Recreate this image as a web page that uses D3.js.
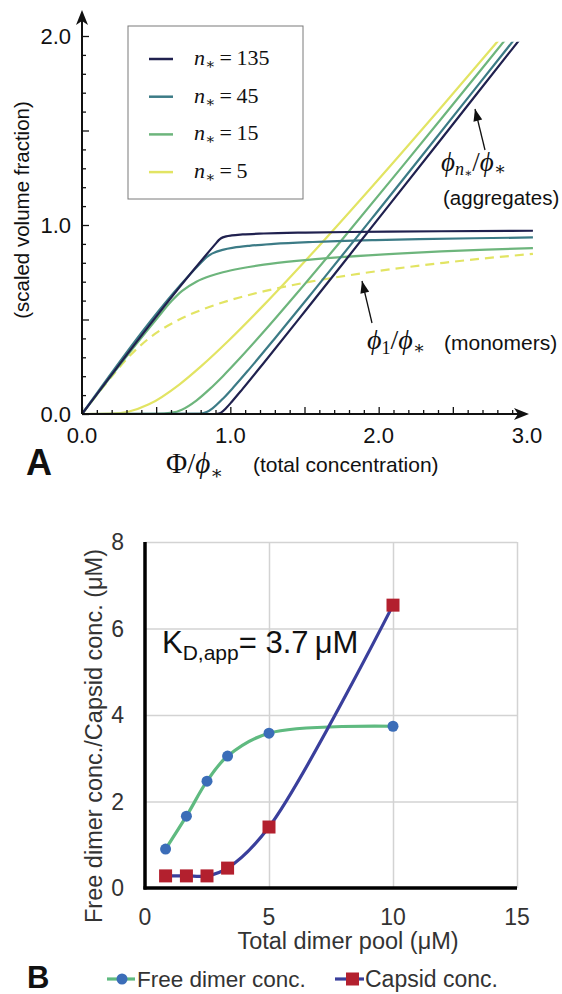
<!DOCTYPE html>
<html>
<head>
<meta charset="utf-8">
<script src="https://cdn.jsdelivr.net/npm/d3@7"></script>
<style>
  body { margin: 0; background: #fff; }
  #c { width: 562px; height: 994px; }
  text { font-family: "Liberation Sans", Arial, sans-serif; fill: #111; }
  .math { font-family: "Liberation Serif", "DejaVu Serif", serif; }
</style>
</head>
<body>
<div id="c"></div>
<script>
"use strict";

// ---- panel A : scaled volume fraction vs total concentration ----
// each n* has its own sampled total-concentration points
const nLabels = ["135", "45", "15", "5"]
const nColors = ["#20214f", "#3c7b86", "#6db57c", "#e2e463"]

const tot135 = [0, 0.9, 0.922, 0.9375, 0.972, 1.010, 1.083, 1.225, 1.506, 1.795, 2.065, 2.421, 2.893, 3.04]
const mono135 = [0, 0.9, 0.92, 0.93, 0.94, 0.945, 0.95, 0.955, 0.96, 0.963, 0.965, 0.967, 0.969, 0.9695]
const agg135 = [0, 0.0001, 0.002, 0.0075, 0.032, 0.065, 0.133, 0.270, 0.546, 0.832, 1.10, 1.454, 1.924, 2.07]

const tot45 = [0, 0.802, 0.840, 0.880, 0.955, 1.0225, 1.1275, 1.293, 1.556, 1.977, 2.273, 2.646, 3.04]
const mono45 = [0, 0.8, 0.83, 0.85, 0.87, 0.88, 0.89, 0.90, 0.91, 0.92, 0.925, 0.93, 0.934]
const agg45 = [0, 0.002, 0.010, 0.030, 0.085, 0.1425, 0.2375, 0.393, 0.646, 1.057, 1.348, 1.716, 2.106]

const tot15 = [0, 0.5, 0.607, 0.673, 0.771, 0.864, 0.950, 1.067, 1.226, 1.446, 1.747, 2.160, 2.422, 2.727, 3.04]
const mono15 = [0, 0.5, 0.6, 0.65, 0.70, 0.73, 0.75, 0.77, 0.79, 0.81, 0.83, 0.85, 0.86, 0.87, 0.878]
const agg15 = [0, 0.0005, 0.007, 0.023, 0.071, 0.134, 0.200, 0.297, 0.436, 0.636, 0.917, 1.310, 1.562, 1.857, 2.162]

const tot5 = [0, 0.202, 0.312, 0.451, 0.656, 0.802, 0.989, 1.230, 1.540, 1.937, 2.438, 2.80, 3.04]
const mono5 = [0, 0.2, 0.3, 0.4, 0.5, 0.55, 0.6, 0.65, 0.7, 0.75, 0.8, 0.83, 0.847]
const agg5 = [0, 0.002, 0.012, 0.051, 0.156, 0.252, 0.389, 0.580, 0.840, 1.187, 1.638, 1.970, 2.193]

const xTicksA = [0, 1, 2, 3]
const yTicksA = [0, 1, 2]

// ---- panel B : free dimer / capsid vs total dimer pool ----
const dimerPool = [0.83, 1.67, 2.5, 3.33, 5, 10]
const freeDimer = [0.9, 1.66, 2.47, 3.05, 3.58, 3.74]
const capsid = [0.28, 0.28, 0.28, 0.46, 1.41, 6.54]
const xTicksB = [0, 5, 10, 15]
const yTicksB = [0, 2, 4, 6, 8]

const PHI = '\u03D5'
let svg

window.onload = function() {
    svg = d3.select('#c').append('svg')
        .attr('width', 562).attr('height', 994)
    drawPanelA()
    drawPanelB()
}

function zip(xs, ys) {
    return xs.map((x, i) => [x, ys[i]])
}

function drawPanelA() {
    const x = d3.scaleLinear().domain([0, 3]).range([82, 527])
    const y = d3.scaleLinear().domain([0, 2]).range([414, 36])
    const g = svg.append('g')

    // legend box
    g.append('rect')
        .attr('x', 128).attr('y', 26).attr('width', 175).attr('height', 173)
        .attr('fill', '#fff').attr('stroke', '#7a7a7a').attr('stroke-width', 1)

    g.append('clipPath').attr('id', 'clipA')
        .append('rect')
        .attr('x', x(0) - 2).attr('y', y(1.97))
        .attr('width', x(3.04) - x(0) + 3).attr('height', y(0) - y(1.97) + 3)

    const series = [
        {tot: tot5, mono: mono5, agg: agg5, color: nColors[3], dashed: true},
        {tot: tot15, mono: mono15, agg: agg15, color: nColors[2]},
        {tot: tot45, mono: mono45, agg: agg45, color: nColors[1]},
        {tot: tot135, mono: mono135, agg: agg135, color: nColors[0]}
    ]
    const line = d3.line()
        .x(d => x(d[0]))
        .y(d => y(d[1]))
        .curve(d3.curveMonotoneX)

    const lines = g.append('g').attr('clip-path', 'url(#clipA)')
    series.forEach(s => {
        lines.append('path')
            .datum(zip(s.tot, s.mono))
            .attr('fill', 'none')
            .attr('stroke', s.color)
            .attr('stroke-width', 2.2)
            .attr('stroke-dasharray', s.dashed ? '9,6' : null)
            .attr('d', line)
        lines.append('path')
            .datum(zip(s.tot, s.agg))
            .attr('fill', 'none')
            .attr('stroke', s.color)
            .attr('stroke-width', 2.2)
            .attr('d', line)
    })

    // axes with arrow heads
    g.append('line')
        .attr('x1', x(0)).attr('x2', 522).attr('y1', y(0)).attr('y2', y(0))
        .attr('stroke', '#111').attr('stroke-width', 2)
    g.append('line')
        .attr('x1', x(0)).attr('x2', x(0)).attr('y1', y(0)).attr('y2', 18)
        .attr('stroke', '#111').attr('stroke-width', 2)
    g.append('path')
        .attr('d', 'M529,414 L514,408 L518,414 L514,420 Z')
        .attr('fill', '#111')
    g.append('path')
        .attr('d', 'M82,10 L76,25 L82,21 L88,25 Z')
        .attr('fill', '#111')

    const minor = d3.range(0, 30).map(i => i / 10)
    const isMajor = v => Math.abs(v * 2 - Math.round(v * 2)) < 1e-6
    g.append('g')
        .attr('transform', 'translate(0,' + y(0) + ')')
        .call(d3.axisTop(x).tickValues(minor).tickFormat('')
            .tickSize(4).tickSizeOuter(0))
        .call(a => a.select('.domain').remove())
        .call(a => a.selectAll('.tick line')
            .attr('y2', d => isMajor(d) ? -7 : -4)
            .attr('stroke', '#111').attr('stroke-width', 1.3))
    g.append('g')
        .attr('transform', 'translate(' + x(0) + ',0)')
        .call(d3.axisRight(y).tickValues(d3.range(0, 21).map(i => i / 10))
            .tickFormat('').tickSize(4).tickSizeOuter(0))
        .call(a => a.select('.domain').remove())
        .call(a => a.selectAll('.tick line')
            .attr('x2', d => isMajor(d) ? 7 : 4)
            .attr('stroke', '#111').attr('stroke-width', 1.3))

    g.selectAll('.xlabA').data(xTicksA).enter().append('text')
        .attr('x', d => x(d)).attr('y', 443)
        .attr('text-anchor', 'middle').style('font-size', '22px')
        .text(d => d3.format('.1f')(d))
    g.selectAll('.ylabA').data(yTicksA).enter().append('text')
        .attr('x', 71).attr('y', d => y(d) + 8)
        .attr('text-anchor', 'end').style('font-size', '22px')
        .text(d => d3.format('.1f')(d))

    g.append('text')
        .attr('transform', 'translate(29,210) rotate(-90)')
        .attr('text-anchor', 'middle').style('font-size', '20.5px')
        .text('(scaled volume fraction)')

    g.append('text').attr('x', 26).attr('y', 475)
        .style('font-size', '36px').style('font-weight', 'bold').text('A')

    let t = g.append('text').attr('class', 'math').attr('x', 166).attr('y', 473)
        .style('font-size', '29px')
    t.append('tspan').text('Φ/')
    t.append('tspan').style('font-style', 'italic').text(PHI)
    t.append('tspan').attr('dy', 6).style('font-size', '19px').text('∗')
    g.append('text').attr('x', 253).attr('y', 472)
        .style('font-size', '21px').text('(total concentration)')

    // legend entries
    nLabels.forEach((lab, i) => {
        const cy = 59 + i * 37.7
        g.append('line')
            .attr('x1', 149).attr('x2', 173).attr('y1', cy).attr('y2', cy)
            .attr('stroke', nColors[i]).attr('stroke-width', 2.5)
        const tt = g.append('text').attr('class', 'math')
            .attr('x', 194).attr('y', cy + 6).style('font-size', '22px')
        tt.append('tspan').style('font-style', 'italic').text('n')
        tt.append('tspan').attr('dy', 4).style('font-size', '15px').text('∗')
        tt.append('tspan').attr('dy', -4).text('\u2009=\u2009' + lab)
    })

    // annotations
    const arrow = (x1, y1, x2, y2) => {
        g.append('line')
            .attr('x1', x1).attr('y1', y1).attr('x2', x2).attr('y2', y2)
            .attr('stroke', '#111').attr('stroke-width', 1.3)
        const ang = Math.atan2(y2 - y1, x2 - x1)
        const L = 12, Wd = 4.5
        const bx = x2 - L * Math.cos(ang), by = y2 - L * Math.sin(ang)
        const px = -Math.sin(ang) * Wd, py = Math.cos(ang) * Wd
        g.append('path')
            .attr('d', 'M' + x2 + ',' + y2 + ' L' + (bx + px) + ',' + (by + py) +
                ' L' + (bx - px) + ',' + (by - py) + ' Z')
            .attr('fill', '#111')
    }
    arrow(485, 150, 475, 109)
    arrow(372, 323, 362, 281)

    let a1 = g.append('text').attr('class', 'math').attr('x', 441).attr('y', 171)
        .style('font-size', '27px')
    a1.append('tspan').style('font-style', 'italic').text(PHI)
    a1.append('tspan').attr('dy', 4).style('font-size', '18px').style('font-style', 'italic').text('n')
    a1.append('tspan').attr('dy', 2).style('font-size', '12px').text('∗')
    a1.append('tspan').attr('dy', -6).text('/')
    a1.append('tspan').style('font-style', 'italic').text(PHI)
    a1.append('tspan').attr('dy', 4).style('font-size', '18px').text('∗')
    g.append('text').attr('x', 443).attr('y', 205)
        .style('font-size', '20.5px').text('(aggregates)')

    let a2 = g.append('text').attr('class', 'math').attr('x', 367).attr('y', 349)
        .style('font-size', '28px')
    a2.append('tspan').style('font-style', 'italic').text(PHI)
    a2.append('tspan').attr('dy', 5).style('font-size', '18px').text('1')
    a2.append('tspan').attr('dy', -5).text('/')
    a2.append('tspan').style('font-style', 'italic').text(PHI)
    a2.append('tspan').attr('dy', 5).style('font-size', '18px').text('∗')
    g.append('text').attr('x', 444).attr('y', 350)
        .style('font-size', '21px').text('(monomers)')
}

function drawPanelB() {
    const x = d3.scaleLinear().domain([0, 15]).range([145, 517])
    const y = d3.scaleLinear().domain([0, 8]).range([888, 542])
    const g = svg.append('g')

    // grid
    g.append('g')
        .attr('transform', 'translate(' + x(0) + ',0)')
        .call(d3.axisLeft(y).tickValues([2, 4, 6, 8]).tickFormat('')
            .tickSize(-(x(15) - x(0))).tickSizeOuter(0))
        .call(a => a.select('.domain').remove())
        .call(a => a.selectAll('.tick line').attr('stroke', '#d3d3d3').attr('stroke-width', 1.5))
    g.append('g')
        .attr('transform', 'translate(0,' + y(0) + ')')
        .call(d3.axisBottom(x).tickValues([5, 10, 15]).tickFormat('')
            .tickSize(-(y(0) - y(8))).tickSizeOuter(0))
        .call(a => a.select('.domain').remove())
        .call(a => a.selectAll('.tick line').attr('stroke', '#d3d3d3').attr('stroke-width', 1.5))

    // thick axes
    g.append('line')
        .attr('x1', x(0)).attr('x2', x(0)).attr('y1', y(8)).attr('y2', y(0) + 1.5)
        .attr('stroke', '#000').attr('stroke-width', 3.5)
    g.append('line')
        .attr('x1', x(0) - 1.5).attr('x2', x(15)).attr('y1', y(0)).attr('y2', y(0))
        .attr('stroke', '#000').attr('stroke-width', 3.5)

    g.selectAll('.ylabB').data(yTicksB).enter().append('text')
        .attr('x', 124).attr('y', d => y(d) + 8)
        .attr('text-anchor', 'end').style('font-size', '23px').style('fill', '#333')
        .text(d => d)
    g.selectAll('.xlabB').data(xTicksB).enter().append('text')
        .attr('x', d => x(d)).attr('y', 925)
        .attr('text-anchor', 'middle').style('font-size', '23px').style('fill', '#333')
        .text(d => d)

    g.append('text')
        .attr('transform', 'translate(102,736) rotate(-90)')
        .attr('text-anchor', 'middle').style('font-size', '23.5px').style('fill', '#333')
        .text('Free dimer conc./Capsid conc. (μM)')
    g.append('text')
        .attr('x', 348).attr('y', 949)
        .attr('text-anchor', 'middle').style('font-size', '23.5px').style('fill', '#333')
        .text('Total dimer pool (μM)')

    const line = d3.line()
        .x(d => x(d[0]))
        .y(d => y(d[1]))
        .curve(d3.curveCatmullRom.alpha(0.5))

    g.append('path')
        .datum(zip(dimerPool, freeDimer))
        .attr('fill', 'none').attr('stroke', '#5fba80').attr('stroke-width', 3.2)
        .attr('d', line)
    g.append('path')
        .datum(zip(dimerPool, capsid))
        .attr('fill', 'none').attr('stroke', '#3a3f9c').attr('stroke-width', 3.2)
        .attr('d', line)

    g.selectAll('.dot').data(zip(dimerPool, freeDimer)).enter().append('circle')
        .attr('cx', d => x(d[0])).attr('cy', d => y(d[1])).attr('r', 5.5)
        .attr('fill', '#3b6db8')
    g.selectAll('.sq').data(zip(dimerPool, capsid)).enter().append('rect')
        .attr('x', d => x(d[0]) - 6.5).attr('y', d => y(d[1]) - 6.5)
        .attr('width', 13).attr('height', 13)
        .attr('fill', '#b3202e')

    g.append('text')
        .attr('x', 162).attr('y', 653).style('font-size', '31px').style('fill', '#111')
        .call(t => {
            t.append('tspan').text('K')
            t.append('tspan').attr('dy', 7).style('font-size', '21px').text('D,app')
            t.append('tspan').attr('dy', -7).text('= 3.7\u2009μM')
        })

    // legend
    g.append('text').attr('x', 27).attr('y', 988)
        .style('font-size', '31px').style('font-weight', 'bold').text('B')
    const ly = 979
    g.append('line').attr('x1', 107).attr('x2', 135).attr('y1', ly).attr('y2', ly)
        .attr('stroke', '#5fba80').attr('stroke-width', 3.2)
    g.append('circle').attr('cx', 122).attr('cy', ly).attr('r', 5.5).attr('fill', '#3b6db8')
    g.append('text').attr('x', 137).attr('y', 987)
        .style('font-size', '22.5px').style('fill', '#333').text('Free dimer conc.')
    g.append('line').attr('x1', 335).attr('x2', 364).attr('y1', ly).attr('y2', ly)
        .attr('stroke', '#3a3f9c').attr('stroke-width', 3.2)
    g.append('rect').attr('x', 346).attr('y', ly - 6.5).attr('width', 13).attr('height', 13)
        .attr('fill', '#b3202e')
    g.append('text').attr('x', 365).attr('y', 987)
        .style('font-size', '23px').style('fill', '#333').text('Capsid conc.')
}
</script>
</body>
</html>
